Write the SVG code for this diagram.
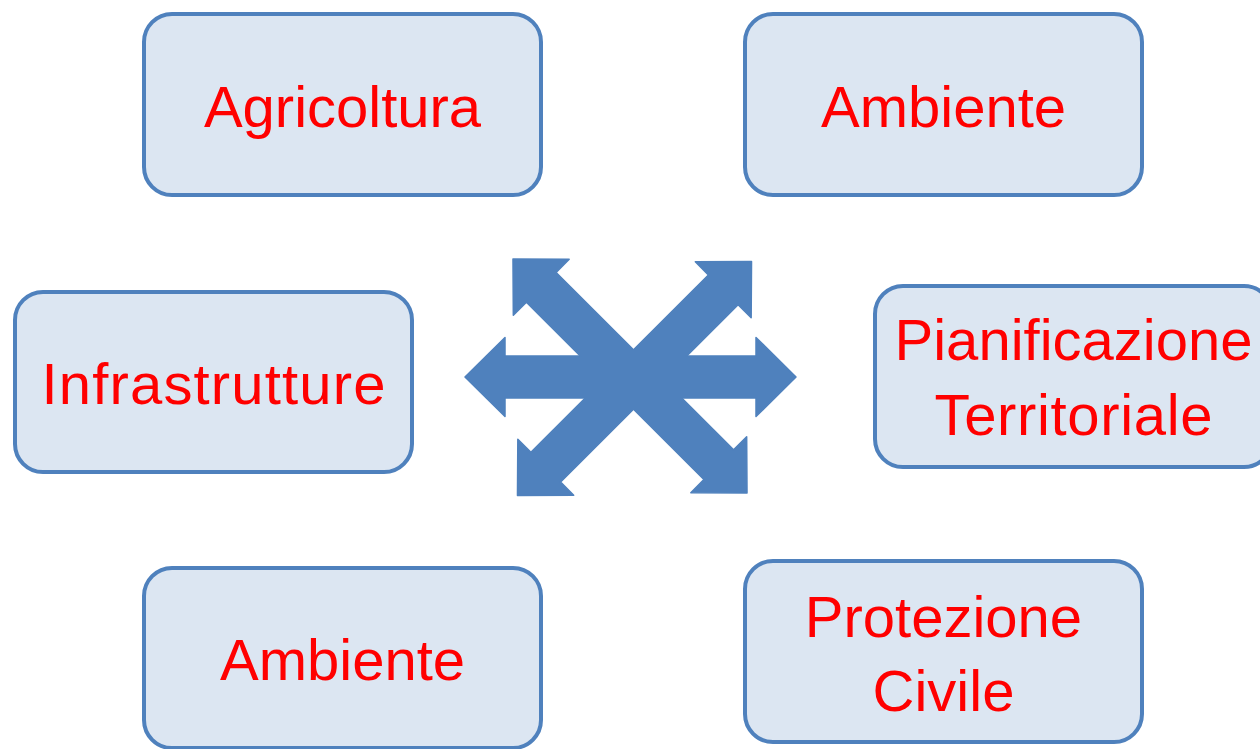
<svg xmlns="http://www.w3.org/2000/svg" width="1260" height="749" viewBox="0 0 1260 749">
<style>
.box{fill:#DCE6F2;stroke:#4F81BD;stroke-width:4}
.lbl{font-family:"Liberation Sans",Arial,sans-serif;font-size:58px;fill:#FF0000;text-anchor:middle}
.arr{fill:#4F81BD;stroke:#4F81BD;stroke-width:1.5;stroke-linejoin:round}
</style>
<defs>
<polygon id="dbl" points="-165.5,0 -125.5,-39.5 -125.5,-21 125.5,-21 125.5,-39.5 165.5,0 125.5,39.5 125.5,21 -125.5,21 -125.5,39.5"/>
</defs>
<rect width="1260" height="749" fill="#FFFFFF"/>
<g id="connectors" class="arr">
<use href="#dbl" transform="translate(630.5,377)"/>
<use href="#dbl" transform="translate(630,376) rotate(45)"/>
<use href="#dbl" transform="translate(634.5,378.5) rotate(-45)"/>
</g>
<g id="agricoltura">
<rect class="box" x="144" y="14" width="397" height="181" rx="28"/>
<text class="lbl" x="342.5" y="127">Agricoltura</text>
</g>
<g id="ambiente-top">
<rect class="box" x="745" y="14" width="397" height="181" rx="28"/>
<text class="lbl" x="943.5" y="127">Ambiente</text>
</g>
<g id="infrastrutture">
<rect class="box" x="15" y="292" width="397" height="180" rx="28"/>
<text class="lbl" x="213.5" y="404" textLength="344" lengthAdjust="spacing">Infrastrutture</text>
</g>
<g id="pianificazione">
<rect class="box" x="875" y="286" width="397" height="181" rx="28"/>
<text class="lbl" x="1073.5" y="360">Pianificazione</text>
<text class="lbl" x="1073.5" y="435" textLength="278" lengthAdjust="spacing">Territoriale</text>
</g>
<g id="ambiente-bottom">
<rect class="box" x="144" y="568" width="397" height="180" rx="28"/>
<text class="lbl" x="342.5" y="680">Ambiente</text>
</g>
<g id="protezione">
<rect class="box" x="745" y="561" width="397" height="181" rx="28"/>
<text class="lbl" x="943.5" y="637">Protezione</text>
<text class="lbl" x="943.5" y="711">Civile</text>
</g>
</svg>
